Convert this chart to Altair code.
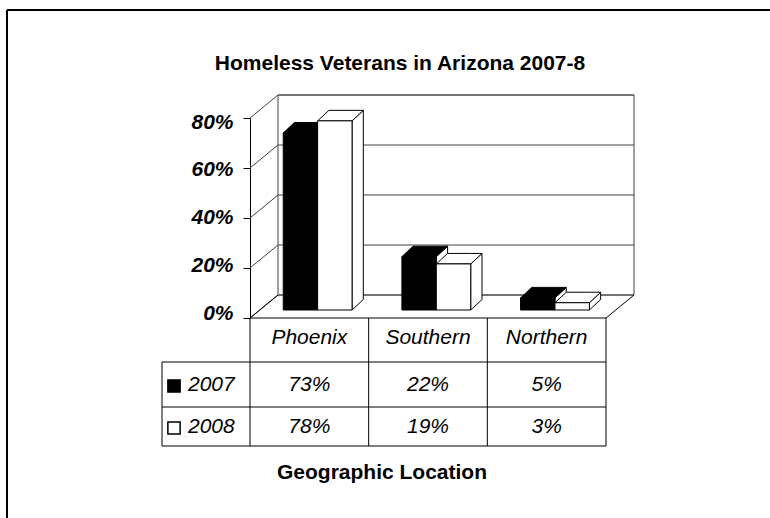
import altair as alt
import pandas as pd

# ---------------- data ----------------
categories = ["Phoenix", "Southern", "Northern"]
years = ["2007", "2008"]
values_2007 = [73, 22, 5]
values_2008 = [78, 19, 3]
y_ticks = [0, 20, 40, 60, 80]
chart_title = "Homeless Veterans in Arizona 2007-8"
x_title = "Geographic Location"

# ---------------- layout / style constants ----------------
FONT = "Liberation Sans"
W, H = 356, 200
Y_MAX = 80
WALL_DX, WALL_DY = 0.236, 9.2          # depth offset of back wall (x units, % units)
BAR_BASE, BAR_X0, BAR_W = 3.2, 0.28, 0.29
BAR_DX, BAR_DY = 0.095, 4.2            # depth of each bar
BAR_SCALE = 0.97
GRID = "#444444"

series = {"2007": values_2007, "2008": values_2008}
face_fill = {"2007": ("black", "black", "white"),   # front, top, side
             "2008": ("white", "white", "white")}
legend_fill = {"2007": "black", "2008": "white"}
row_baseline = {"2007": 273, "2008": 315}
row_center = {"2007": 268, "2008": 310}

xs = alt.Scale(domain=[0, len(categories)], nice=False, zero=False)
ys = alt.Scale(domain=[0, Y_MAX], nice=False, zero=False)

Y_AXIS = alt.Axis(
    values=y_ticks, labelExpr="datum.value + '%'", grid=False,
    domain=True, domainColor="black", domainWidth=1,
    ticks=True, tickSize=7, tickColor="black", tickWidth=1,
    labelFont=FONT, labelFontSize=21, labelFontWeight="bold",
    labelFontStyle="italic", labelColor="black", labelPadding=10,
    labelOffset={"expr": "datum.value*0.1125 - 5"}, title=None,
)


def X(f):
    return alt.X(f, scale=xs, axis=None, title=None)


def Y(f):
    return alt.Y(f, scale=ys, axis=Y_AXIS, title=None, stack=None)


one = pd.DataFrame({"a": [0]})
n = len(categories)

# ---------------- 3D frame ----------------
back_wall = alt.Chart(one).mark_rect(fill="white", stroke=GRID, strokeWidth=1).encode(
    x=alt.X("datum.x0:Q", scale=xs, axis=None),
) if False else None

wall_df = pd.DataFrame({"x0": [WALL_DX], "x1": [n + WALL_DX],
                        "y0": [WALL_DY], "y1": [Y_MAX + WALL_DY]})
back_wall = alt.Chart(wall_df).mark_rect(fill="white", stroke=GRID, strokeWidth=1).encode(
    x=X("x0:Q"), x2="x1:Q", y=Y("y0:Q"), y2="y1:Q")

grid_df = pd.DataFrame({"t": y_ticks})
grid_df["x0"] = WALL_DX
grid_df["x1"] = n + WALL_DX
grid_df["yb"] = grid_df["t"] + WALL_DY
gridlines = alt.Chart(grid_df).mark_rule(color=GRID, strokeWidth=1).encode(
    x=X("x0:Q"), x2="x1:Q", y=Y("yb:Q"))

diag_df = pd.DataFrame({"t": y_ticks})
diag_df["x0"] = 0.0
diag_df["x1"] = WALL_DX
diag_df["yb"] = diag_df["t"] + WALL_DY
left_wall = alt.Chart(diag_df).mark_rule(color=GRID, strokeWidth=1).encode(
    x=X("x0:Q"), x2="x1:Q", y=Y("t:Q"), y2="yb:Q")

floor_df = pd.DataFrame({"x0": [0.0, float(n)], "x1": [WALL_DX, n + WALL_DX],
                         "y0": [0.0, 0.0], "y1": [WALL_DY, WALL_DY]})
floor = alt.Chart(floor_df).mark_rule(color="black", strokeWidth=1).encode(
    x=X("x0:Q"), x2="x1:Q", y=Y("y0:Q"), y2="y1:Q")

# ---------------- bars ----------------
bar_layers = []
for j, yr in enumerate(years):
    fronts, tops, sides = [], [], []
    for i, (cat, v) in enumerate(zip(categories, series[yr])):
        x0 = i + BAR_X0 + j * BAR_W
        x1 = x0 + BAR_W
        yb = BAR_BASE
        yt = BAR_BASE + v * BAR_SCALE
        fid = f"{yr}-{cat}"
        fronts.append({"id": fid, "x0": x0, "x1": x1, "y0": yb, "y1": yt})
        tops += [
            {"id": fid, "x": x0, "lo": yt, "hi": yt},
            {"id": fid, "x": x0 + BAR_DX, "lo": yt, "hi": yt + BAR_DY},
            {"id": fid, "x": x1, "lo": yt, "hi": yt + BAR_DY},
            {"id": fid, "x": x1 + BAR_DX, "lo": yt + BAR_DY, "hi": yt + BAR_DY},
        ]
        sides += [
            {"id": fid, "x": x1, "lo": yb, "hi": yt},
            {"id": fid, "x": x1 + BAR_DX, "lo": yb + BAR_DY, "hi": yt + BAR_DY},
        ]
    ff, tf, sf = face_fill[yr]
    side = alt.Chart(pd.DataFrame(sides)).mark_area(
        fill=sf, stroke="black", strokeWidth=1, strokeJoin="miter", opacity=1,
        fillOpacity=1).encode(x=X("x:Q"), y=Y("lo:Q"), y2="hi:Q", detail="id:N")
    top = alt.Chart(pd.DataFrame(tops)).mark_area(
        fill=tf, stroke="black", strokeWidth=1, strokeJoin="miter", opacity=1,
        fillOpacity=1).encode(x=X("x:Q"), y=Y("lo:Q"), y2="hi:Q", detail="id:N")
    front = alt.Chart(pd.DataFrame(fronts)).mark_rect(
        fill=ff, stroke="black", strokeWidth=1).encode(
        x=X("x0:Q"), x2="x1:Q", y=Y("y0:Q"), y2="y1:Q")
    bar_layers += [side, top, front]

# ---------------- data table ----------------
TABLE_TOP, ROW1, ROW2, TABLE_BOT, TABLE_LEFT = 200, 244, 289, 328, -88

hline_df = pd.DataFrame({"yy": [ROW1, ROW2, TABLE_BOT]})
hlines = []
for yy in [ROW1, ROW2, TABLE_BOT]:
    hlines.append(alt.Chart(one).mark_rule(color="black", strokeWidth=1).encode(
        x=alt.value(TABLE_LEFT), x2=alt.value(W), y=alt.value(yy)))
top_line = alt.Chart(pd.DataFrame({"x0": [0.0], "x1": [float(n)], "y0": [0.0]})).mark_rule(
    color="black", strokeWidth=1).encode(x=X("x0:Q"), x2="x1:Q", y=Y("y0:Q"))
vline_df = pd.DataFrame({"edge": list(range(n + 1))})
vlines = alt.Chart(vline_df).mark_rule(color="black", strokeWidth=1).encode(
    x=X("edge:Q"), y=alt.value(TABLE_TOP), y2=alt.value(TABLE_BOT))
left_vline = alt.Chart(one).mark_rule(color="black", strokeWidth=1).encode(
    x=alt.value(TABLE_LEFT), y=alt.value(ROW1), y2=alt.value(TABLE_BOT))

head_df = pd.DataFrame({"cat": categories, "xc": [i + 0.5 for i in range(n)]})
header = alt.Chart(head_df).mark_text(
    font=FONT, fontSize=21, fontStyle="italic", color="black",
    align="center", baseline="alphabetic").encode(
    x=X("xc:Q"), y=alt.value(226), text="cat:N")

table_layers = [top_line, vlines, left_vline] + hlines + [header]
for yr in years:
    vdf = pd.DataFrame({"xc": [i + 0.5 for i in range(n)],
                        "lab": [f"{v}%" for v in series[yr]]})
    table_layers.append(alt.Chart(vdf).mark_text(
        font=FONT, fontSize=21, fontStyle="italic", color="black",
        align="center", baseline="alphabetic").encode(
        x=X("xc:Q"), y=alt.value(row_baseline[yr]), text="lab:N"))
    table_layers.append(alt.Chart(pd.DataFrame({"yr": [yr]})).mark_text(
        font=FONT, fontSize=21, fontStyle="italic", color="black",
        align="left", baseline="alphabetic").encode(
        x=alt.value(-62), y=alt.value(row_baseline[yr]), text="yr:N"))
    table_layers.append(alt.Chart(one).mark_square(
        size=150, fill=legend_fill[yr], stroke="black", strokeWidth=1.5, opacity=1).encode(
        x=alt.value(-76), y=alt.value(row_center[yr])))

# ---------------- titles & border ----------------
title = alt.Chart(one).mark_text(
    text=chart_title, font=FONT, fontSize=21, fontWeight="bold", color="black",
    align="center", baseline="alphabetic").encode(x=alt.value(150), y=alt.value(-48))
xtitle = alt.Chart(one).mark_text(
    text=x_title, font=FONT, fontSize=21, fontWeight="bold", color="black",
    align="center", baseline="alphabetic").encode(x=alt.value(132), y=alt.value(361))
border_left = alt.Chart(one).mark_rule(color="black", strokeWidth=2).encode(
    x=alt.value(-243), y=alt.value(-108), y2=alt.value(420))
border_top = alt.Chart(one).mark_rule(color="black", strokeWidth=2).encode(
    x=alt.value(-243), x2=alt.value(540), y=alt.value(-108))

chart = alt.layer(
    border_left, border_top, title,
    back_wall, gridlines, left_wall, floor,
    *bar_layers, *table_layers, xtitle,
).properties(
    width=W, height=H,
    autosize=alt.AutoSizeParams(type="none"),
    padding={"left": 250, "top": 118, "right": 164, "bottom": 200},
    background="white",
).configure_view(stroke=None)

chart.save("out.html", embed_options={"renderer": "svg", "actions": False})
